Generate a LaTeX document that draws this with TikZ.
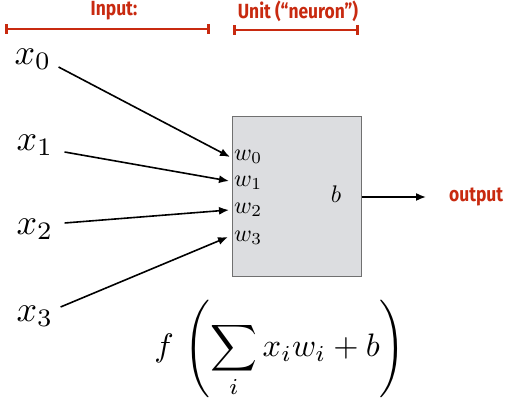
\documentclass[tikz,border=0pt]{standalone}
\usepackage{fontspec}
\usetikzlibrary{arrows.meta}
\newfontfamily\redsans{Fira Sans}
\definecolor{slidered}{RGB}{200,42,16}
\definecolor{boxfill}{RGB}{220,221,224}
\definecolor{boxline}{RGB}{112,112,112}
\newcommand{\bigx}[1]{\scalebox{3.6}{$#1$}}
\newcommand{\midw}[1]{\scalebox{2.4}{$#1$}}
\begin{document}
\begin{tikzpicture}[x=1pt,y=-1pt,
  inlab/.style={inner sep=0pt},
  wlab/.style={inner sep=0pt,anchor=west},
  arr/.style={line width=1.6pt,-{Latex[length=10pt,width=8pt]}},
  redlab/.style={inner sep=0pt,text=slidered,font=\redsans\bfseries\fontsize{20.5}{24}\selectfont},
  redbar/.style={draw=slidered,line width=2.6pt,{Bar[width=10pt,line width=2.6pt]}-{Bar[width=10pt,line width=2.6pt]}},
  unitbox/.style={draw=boxline,fill=boxfill,line width=1pt,minimum width=129pt,minimum height=160pt,inner sep=0pt}]
\useasboundingbox (0,0) rectangle (506,403);
% header bars
\draw[redbar] (5,29) -- (210,29);
\draw[redbar] (233,30) -- (359,30);
\node[redlab] (inlabel) at (114,11) {\scalebox{0.85}[1]{Input:}};
\node[redlab] (unitlabel) at (298,11) {\scalebox{0.85}[1]{Unit (“neuron”)}};
% unit
\node[unitbox] (unit) at (296.5,197) {};
\node[wlab] (w0) at (234,157) {\midw{w_0}};
\node[wlab] (w1) at (234,183) {\midw{w_1}};
\node[wlab] (w2) at (234,210) {\midw{w_2}};
\node[wlab] (w3) at (234,238) {\midw{w_3}};
\node[inner sep=0pt] (b) at (336,194) {\midw{b}};
% inputs
\node[inlab] (x0) at (33,59) {\bigx{x_0}};
\node[inlab] (x1) at (35,145) {\bigx{x_1}};
\node[inlab] (x2) at (35,229) {\bigx{x_2}};
\node[inlab] (x3) at (35,316) {\bigx{x_3}};
\draw[arr] ([shift={(7,8)}]x0.east) -- ([shift={(-4,0)}]w0.west);
\draw[arr] ([shift={(11,7)}]x1.east) -- ([shift={(-5,-2)}]w1.west);
\draw[arr] ([shift={(11,-6)}]x2.east) -- ([shift={(-5,0)}]w2.west);
\draw[arr] ([shift={(7,-9)}]x3.east) -- ([shift={(-6,-1)}]w3.west);
% output
\node[redlab,anchor=west] (out) at (449,197) {\scalebox{0.85}[1]{output}};
\draw[arr,shorten >=23pt] (unit.east) -- (unit.east -| out.west);
% formula
\node[inner sep=0pt] (formula) at (280,349) {\scalebox{3.25}{$\displaystyle f\,\left(\sum_i x_i w_i + b\right)$}};
\end{tikzpicture}
\end{document}
